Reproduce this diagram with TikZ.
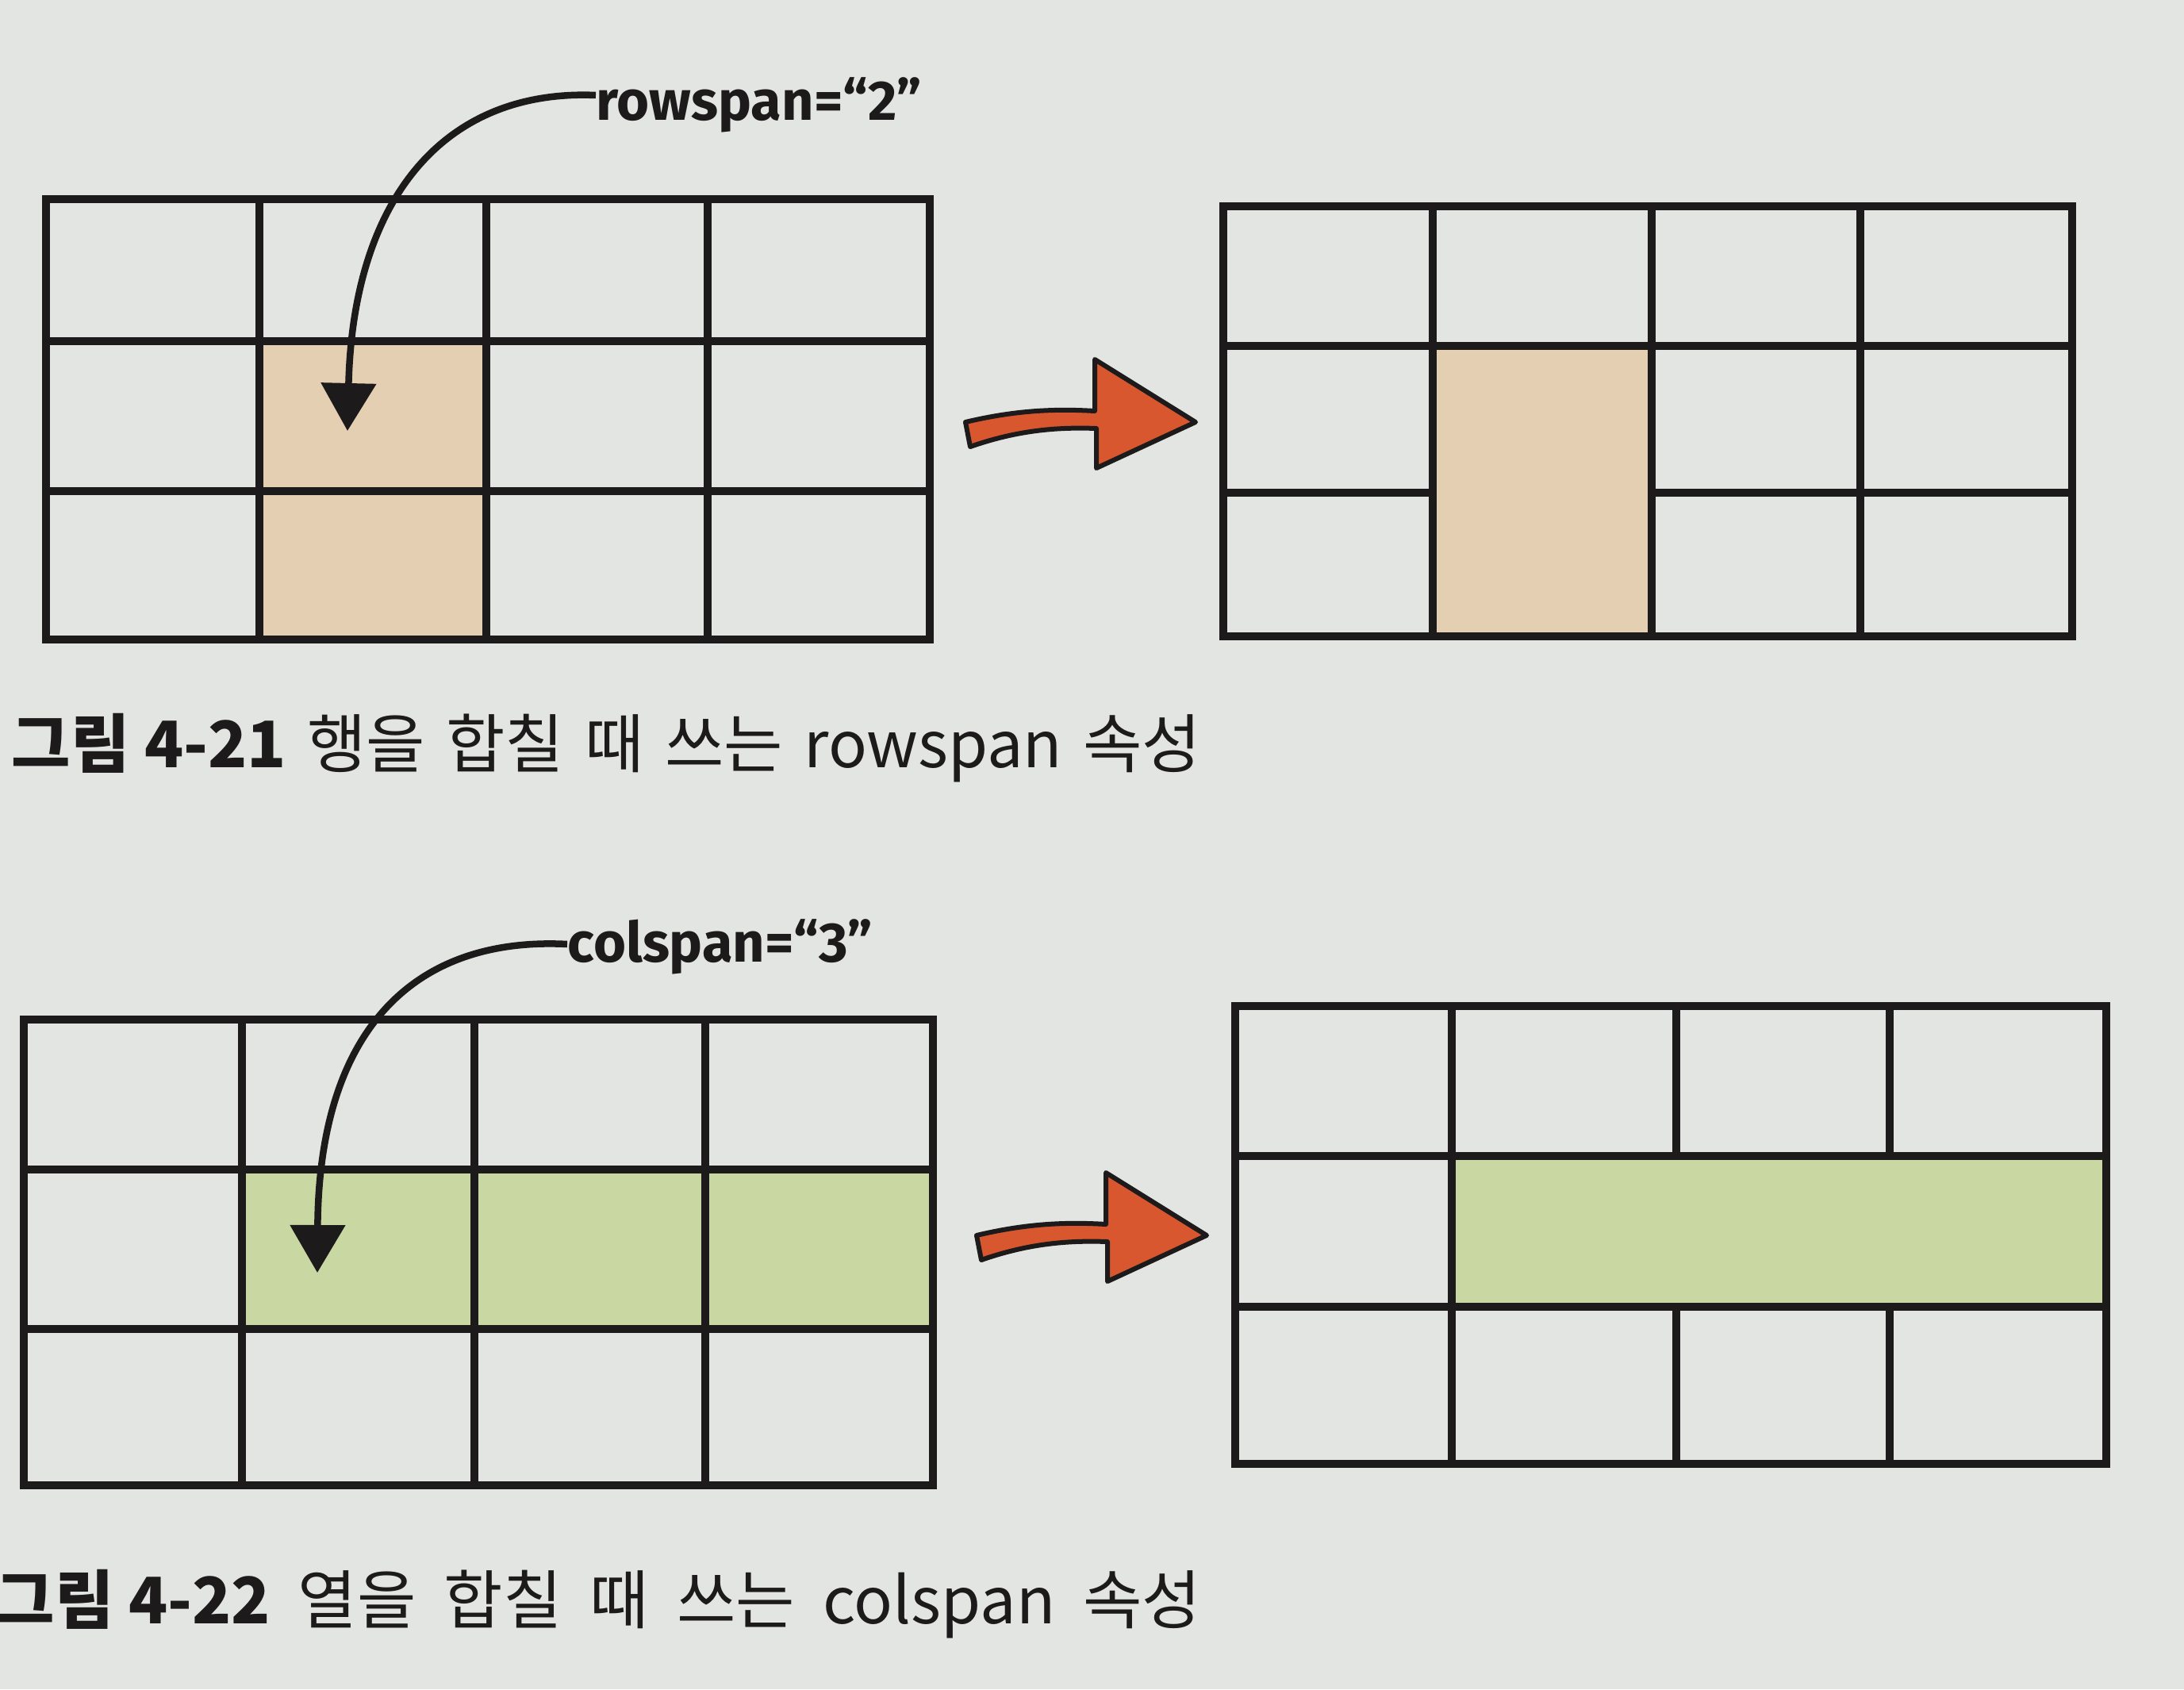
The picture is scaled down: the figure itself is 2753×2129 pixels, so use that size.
\documentclass[tikz,border=0pt]{standalone}
\usepackage{fontspec}
\newfontfamily\kr{Noto Sans CJK KR}
\newfontfamily\hand{Fira Sans}
\usetikzlibrary{arrows.meta}
\definecolor{paper}{HTML}{E3E5E2}
\definecolor{ink}{HTML}{1C1A1A}
\definecolor{tanfill}{HTML}{E4CFB2}
\definecolor{leaf}{HTML}{C9D8A2}
\definecolor{redarrow}{HTML}{D8572F}
\newcommand\capgap{\hspace{10pt}}
\newcommand\capgapb{\hspace{7.5pt}}
\tikzset{
  gridline/.style={draw=ink, line width=0.1cm, line cap=rect, line join=miter},
  curvearrow/.style={draw=ink, line width=0.085cm, -{Triangle[length=0.6cm, width=0.68cm]}},
  bigarrow/.style={fill=redarrow, draw=ink, line width=0.06cm, line join=round},
  handlabel/.style={anchor=base west, inner sep=0pt, text=ink, font=\hand\bfseries\fontsize{20pt}{24pt}\selectfont},
  caption/.style={anchor=west, inner sep=0pt, text=ink, font=\kr\fontsize{23pt}{28pt}\selectfont}
}
\begin{document}
\begin{tikzpicture}[x=0.01cm, y=-0.01cm]
\useasboundingbox (0,0) rectangle (2753,2129);
\fill[paper] (0,0) rectangle (2753,2129);

% ---------- Figure 4-21 : left grid ----------
\fill[tanfill] (327,430) rectangle (613,806);
\draw[gridline] (58,251) rectangle (1172,806);
\draw[gridline] (327,251) -- (327,806) (613,251) -- (613,806) (892,251) -- (892,806);
\draw[gridline] (58,430) -- (1172,430) (58,619) -- (1172,619);

% ---------- Figure 4-21 : right grid ----------
\fill[tanfill] (1806,436) rectangle (2082,802);
\draw[gridline] (1542,260) rectangle (2612,802);
\draw[gridline] (1806,260) -- (1806,802) (2082,260) -- (2082,802) (2345,260) -- (2345,802);
\draw[gridline] (1542,436) -- (2612,436);
\draw[gridline] (1542,621) -- (1806,621) (2082,621) -- (2612,621);

% ---------- Figure 4-22 : left grid ----------
\fill[leaf] (305,1474) rectangle (1176,1675);
\draw[gridline] (30,1285) rectangle (1176,1872);
\draw[gridline] (305,1285) -- (305,1872) (598,1285) -- (598,1872) (889,1285) -- (889,1872);
\draw[gridline] (30,1474) -- (1176,1474) (30,1675) -- (1176,1675);

% ---------- Figure 4-22 : right grid ----------
\fill[leaf] (1830,1457) rectangle (2655,1647);
\draw[gridline] (1557,1268) rectangle (2655,1845);
\draw[gridline] (1557,1457) -- (2655,1457) (1557,1647) -- (2655,1647);
\draw[gridline] (1830,1268) -- (1830,1845);
\draw[gridline] (2113,1268) -- (2113,1457) (2382,1268) -- (2382,1457);
\draw[gridline] (2113,1647) -- (2113,1845) (2382,1647) -- (2382,1845);

% ---------- red arrows ----------
\path[bigarrow] (1217,532) .. controls (1280,517) and (1330,515) .. (1380,518)
  -- (1380,453) -- (1507,532) -- (1382,590) -- (1382,540)
  .. controls (1330,538) and (1280,543) .. (1223,563) -- cycle;
\begin{scope}[shift={(14,1025)}]
\path[bigarrow] (1217,532) .. controls (1280,517) and (1330,515) .. (1380,518)
  -- (1380,453) -- (1507,532) -- (1382,590) -- (1382,540)
  .. controls (1330,538) and (1280,543) .. (1223,563) -- cycle;
\end{scope}

% ---------- labels and curved arrows ----------
\node[handlabel] (rowlbl) at (751,151) {rowspan=“2”};
\coordinate (rowtip) at (438,543);
\draw[curvearrow] ([yshift=0.31cm]rowlbl.base west) .. controls (560,112) and (445,250) .. (rowtip);

\node[handlabel] (collbl) at (715,1212) {colspan=“3”};
\coordinate (coltip) at (400,1604);
\draw[curvearrow] ([yshift=0.22cm]collbl.base west) .. controls (520,1180) and (402,1300) .. (coltip);

% ---------- captions ----------
\node[caption] (cap1) at (14,943) {\textbf{그림 4-21}\capgapb 행을\capgapb 합칠\capgapb 때\capgapb 쓰는\capgapb rowspan\capgapb 속성};
\node[caption] (cap2) at (-6,2022) {\textbf{그림 4-22}\capgap 열을\capgap 합칠\capgap 때\capgap 쓰는\capgap colspan\capgap 속성};
\end{tikzpicture}
\end{document}
